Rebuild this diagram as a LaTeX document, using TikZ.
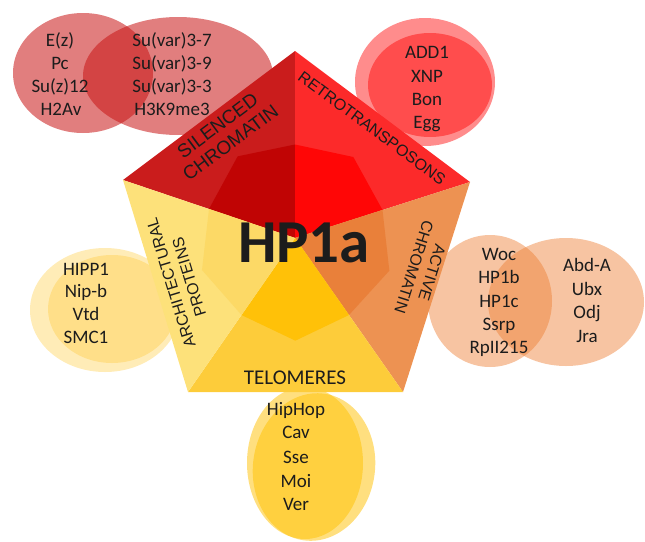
\documentclass[tikz,border=0pt]{standalone}
\usepackage{fontspec}
\usepackage{tikz}
\usepackage{xcolor}
\usetikzlibrary{calc}
\newfontfamily\calibri{Carlito}
\newfontfamily\arialf{Liberation Sans}

\definecolor{silL}{RGB}{202,28,28}
\definecolor{silD}{RGB}{192,4,4}
\definecolor{retL}{RGB}{252,42,42}
\definecolor{retD}{RGB}{255,6,6}
\definecolor{actL}{RGB}{237,146,82}
\definecolor{actD}{RGB}{233,128,58}
\definecolor{telL}{RGB}{253,204,58}
\definecolor{telD}{RGB}{255,193,8}
\definecolor{arcL}{RGB}{253,225,122}
\definecolor{arcD}{RGB}{252,217,102}
\definecolor{ink}{RGB}{28,28,28}

\tikzstyle{blobSil}	= [fill={rgb,255:red,200;green,20;blue,20}, fill opacity=0.55]
\tikzstyle{blobRet}	= [fill={rgb,255:red,255;green,0;blue,0}, fill opacity=0.45]
\tikzstyle{blobArc}	= [fill={rgb,255:red,255;green,200;blue,50}, fill opacity=0.35]
\tikzstyle{blobAct}	= [fill={rgb,255:red,237;green,125;blue,49}, fill opacity=0.45]
\tikzstyle{blobTel}	= [fill={rgb,255:red,255;green,192;blue,0}, fill opacity=0.5]
\tikzstyle{gene}		= [font=\calibri\fontsize{19}{23}\selectfont, text=ink, text height=12.2pt, text depth=0pt, inner sep=0pt]
\tikzstyle{sectlbl}	= [font=\arialf\fontsize{16}{19}\selectfont, text=ink, align=center, inner sep=0pt]

\begin{document}
\begin{tikzpicture}[x=1pt, y=-1pt]
		\useasboundingbox (0,0) rectangle (645,541);
		
		%%%%% Partner clouds
		\fill[blobSil] (83,73) ellipse [x radius=70pt, y radius=60pt];
		\fill[blobSil] (178,76) ellipse [x radius=95pt, y radius=59pt];
		\fill[blobRet] (425,82) ellipse [x radius=70pt, y radius=64pt];
		\fill[blobRet] (430,85) ellipse [x radius=62pt, y radius=52pt];
		\fill[blobArc] (105,310) ellipse [x radius=75pt, y radius=62pt];
		\fill[blobArc] (112,309) ellipse [x radius=64pt, y radius=54pt];
		\fill[blobAct] (490,301) ellipse [x radius=62pt, y radius=66pt];
		\fill[blobAct] (566,302) ellipse [x radius=78pt, y radius=64pt];
		\fill[blobTel] (305,463) ellipse [x radius=58pt, y radius=76pt];
		\fill[blobTel, rotate around={-8:(314,467)}] (314,467) ellipse [x radius=61pt, y radius=74pt];
		
		%%%%% Pentagon corners
		\coordinate (T) at (295,51);
		\coordinate (UL) at (123,180);
		\coordinate (UR) at (470,182);
		\coordinate (LL) at (188,392);
		\coordinate (LR) at (403,392);
		\coordinate (C) at (295,238);
		
		%%%% faces (light face, darker kite towards the middle)
		\foreach \a/\b/\light/\dark in {UL/T/silL/silD, T/UR/retL/retD, UR/LR/actL/actD, LR/LL/telL/telD, LL/UL/arcL/arcD}
		{
			\fill[\light] (C) -- (\a) -- (\b) -- cycle;
			\fill[\dark] (C) -- ($(C)!0.5!(\a)$) -- (barycentric cs:C=1,\a=1,\b=1) -- ($(C)!0.5!(\b)$) -- cycle;
		}
		
		%%%% face labels
		\node[sectlbl, font=\arialf\fontsize{19}{21.5}\selectfont, rotate=36.7] (sil) at (224,134) {SILENCED\\CHROMATIN};
		\node[sectlbl, rotate=-36.6] (ret) at (372,128) {RETROTRANSPOSONS};
		\node[sectlbl, rotate=-107.7] (act) at (423,270) {ACTIVE\\CHROMATIN};
		\node[sectlbl, rotate=107] (arc) at (180,280) {ARCHITECTURAL\\PROTEINS};
		\node[sectlbl, font=\calibri\fontsize{21}{23}\selectfont] (tel) at (295,378) {TELOMERES};
		\node[font=\calibri\bfseries\fontsize{61}{61}\selectfont, text=ink, inner sep=0pt] (hp1a) at (304,243) {HP1a};
		
		%%%% partners
		\foreach \pos/\name/\txt in {{(60,40)/ez/E(z)}, {(60,63)/pc/Pc}, {(60,86)/suz/Su(z)12}, {(61,109.5)/hav/H2Av}}
		\node[gene] (\name) at \pos {\txt};
		
		\foreach \pos/\name/\txt in {{(172,40)/sv7/Su(var)3-7}, {(172,63)/sv9/Su(var)3-9}, {(172,86)/sv3/Su(var)3-3}, {(172,109.5)/hk9/H3K9me3}}
		\node[gene] (\name) at \pos {\txt};
		
		\foreach \pos/\name/\txt in {{(427,52)/add/ADD1}, {(427,76)/xnp/XNP}, {(427,99)/bon/Bon}, {(427,122)/egg/Egg}}
		\node[gene] (\name) at \pos {\txt};
		
		\foreach \pos/\name/\txt in {{(86,269)/hip/HIPP1}, {(86,291)/nip/Nip-b}, {(86,314)/vtd/Vtd}, {(86,337.5)/smc/SMC1}}
		\node[gene] (\name) at \pos {\txt};
		
		\foreach \pos/\name/\txt in {{(499,254)/woc/Woc}, {(499,277)/hpb/HP1b}, {(499,301)/hpc/HP1c}, {(499,324)/ssrp/Ssrp}, {(499,347.5)/rpii/RpII215}}
		\node[gene] (\name) at \pos {\txt};
		
		\foreach \pos/\name/\txt in {{(587,265.5)/abd/Abd-A}, {(587,289)/ubx/Ubx}, {(587,312)/odj/Odj}, {(587,336)/jra/Jra}}
		\node[gene] (\name) at \pos {\txt};
		
		\foreach \pos/\name/\txt in {{(296,409)/hh/HipHop}, {(296,432.5)/cav/Cav}, {(296,457.5)/sse/Sse}, {(296,481)/moi/Moi}, {(296,504)/ver/Ver}}
		\node[gene] (\name) at \pos {\txt};
\end{tikzpicture}
\end{document}
